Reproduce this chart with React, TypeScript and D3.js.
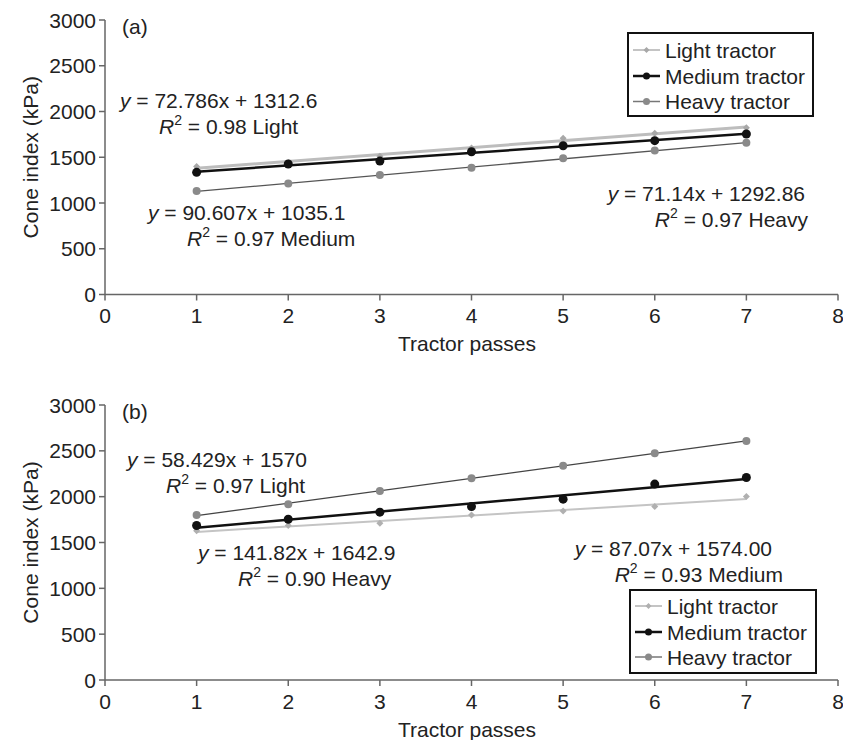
import React from "react";
import * as d3 from "d3";

const passes = [1, 2, 3, 4, 5, 6, 7];
const xTicks = [0, 1, 2, 3, 4, 5, 6, 7, 8];
const yTicks = [0, 500, 1000, 1500, 2000, 2500, 3000];
const seriesNames = ["Light tractor", "Medium tractor", "Heavy tractor"];

const lightA = [1400, 1440, 1510, 1600, 1707, 1761, 1823];
const mediumA = [1335, 1426, 1458, 1560, 1626, 1681, 1754];
const heavyA = [1130, 1214, 1305, 1385, 1488, 1575, 1659];

const lightB = [1627, 1685, 1711, 1801, 1845, 1892, 2001];
const mediumB = [1685, 1754, 1831, 1892, 1973, 2137, 2209];
const heavyB = [1801, 1918, 2063, 2202, 2336, 2475, 2606];

const eqA = [
  { eq: "72.786x + 1312.6", r2: "0.98 Light" },
  { eq: "90.607x + 1035.1", r2: "0.97 Medium" },
  { eq: "71.14x + 1292.86", r2: "0.97 Heavy" },
];
const eqB = [
  { eq: "58.429x + 1570", r2: "0.97 Light" },
  { eq: "141.82x + 1642.9", r2: "0.90 Heavy" },
  { eq: "87.07x + 1574.00", r2: "0.93 Medium" },
];

const FONT = "'Liberation Sans', Arial, Helvetica, sans-serif";
const FS = 21;
const TEXT = "#222";
const AXIS = "#666";

type Style = { line: string; legLine: string; lw: number; marker: string; kind: "diamond" | "circle"; r: number; legLw: number };

const stylesA: Style[] = [
  { line: "#bdbdbd", legLine: "#b0b0b0", lw: 3, marker: "#a8a8a8", kind: "diamond", r: 3.5, legLw: 1.5 },
  { line: "#111", legLine: "#111", lw: 2.5, marker: "#111", kind: "circle", r: 4.5, legLw: 2.5 },
  { line: "#555", legLine: "#777", lw: 1.3, marker: "#8a8a8a", kind: "circle", r: 4, legLw: 1.5 },
];
const stylesB: Style[] = [
  { line: "#c4c4c4", legLine: "#b0b0b0", lw: 2, marker: "#b0b0b0", kind: "diamond", r: 3.5, legLw: 1.5 },
  { line: "#111", legLine: "#111", lw: 2.5, marker: "#111", kind: "circle", r: 4.5, legLw: 2.5 },
  { line: "#444", legLine: "#777", lw: 1.3, marker: "#8a8a8a", kind: "circle", r: 4, legLw: 1.5 },
];

function fit(xs: number[], ys: number[]) {
  const mx = d3.mean(xs)!;
  const my = d3.mean(ys)!;
  let num = 0, den = 0;
  xs.forEach((x, i) => { num += (x - mx) * (ys[i] - my); den += (x - mx) ** 2; });
  const b = num / den;
  return { b, a: my - b * mx };
}

function Marker({ x, y, s }: { x: number; y: number; s: Style }) {
  if (s.kind === "diamond") {
    const r = s.r;
    return <path d={`M${x},${y - r}L${x + r},${y}L${x},${y + r}L${x - r},${y}Z`} fill={s.marker} />;
  }
  return <circle cx={x} cy={y} r={s.r} fill={s.marker} />;
}

function Eq({ x, y, anchor, eq, r2, dx2 }: { x: number; y: number; anchor: string; eq: string; r2: string; dx2: number }) {
  return (
    <g fontFamily={FONT} fontSize={FS} fill={TEXT} textAnchor={anchor}>
      <text x={x} y={y} dominantBaseline="central">
        <tspan fontStyle="italic">y</tspan> = {eq}
      </text>
      <text x={x + dx2} y={y + 26} dominantBaseline="central">
        <tspan fontStyle="italic">R</tspan>
        <tspan fontSize={14} dy={-6}>2</tspan>
        <tspan dy={6}> = {r2}</tspan>
      </text>
    </g>
  );
}

function Panel({
  top, bottom, label, data, styles, eqs, eqPos, legend,
}: {
  top: number; bottom: number; label: string; data: number[][]; styles: Style[];
  eqs: { eq: string; r2: string }[];
  eqPos: { x: number; y: number; anchor: string; dx2: number }[];
  legend: { x0: number; y0: number; x1: number; y1: number; rows: number[] };
}) {
  const x = d3.scaleLinear().domain([0, 8]).range([105, 838]);
  const y = d3.scaleLinear().domain([0, 3000]).range([bottom, top]);
  return (
    <g>
      <line x1={x(0)} x2={x(0)} y1={y(0)} y2={y(3000)} stroke={AXIS} strokeWidth={1.5} />
      <line x1={x(0)} x2={x(8)} y1={y(0)} y2={y(0)} stroke={AXIS} strokeWidth={1.5} />
      {yTicks.map((t) => (
        <g key={t}>
          <line x1={x(0) - 6} x2={x(0)} y1={y(t)} y2={y(t)} stroke={AXIS} strokeWidth={1.5} />
          <text x={x(0) - 9} y={y(t)} textAnchor="end" dominantBaseline="central" fontFamily={FONT} fontSize={FS} fill={TEXT}>{t}</text>
        </g>
      ))}
      {xTicks.map((t) => (
        <g key={t}>
          <line x1={x(t)} x2={x(t)} y1={y(0)} y2={y(0) + 6} stroke={AXIS} strokeWidth={1.5} />
          <text x={x(t)} y={y(0) + 21} textAnchor="middle" dominantBaseline="central" fontFamily={FONT} fontSize={FS} fill={TEXT}>{t}</text>
        </g>
      ))}
      <text x={467} y={y(0) + 49} textAnchor="middle" dominantBaseline="central" fontFamily={FONT} fontSize={FS} fill={TEXT}>Tractor passes</text>
      <text transform={`translate(30,${(top + bottom) / 2}) rotate(-90)`} textAnchor="middle" dominantBaseline="central" fontFamily={FONT} fontSize={FS} fill={TEXT}>Cone index (kPa)</text>
      <text x={122} y={top + 6} dominantBaseline="central" fontFamily={FONT} fontSize={FS} fill={TEXT}>{label}</text>

      {data.map((ys, i) => {
        const f = fit(passes, ys);
        const pts = [1, 7].map((p) => [x(p), y(f.a + f.b * p)] as [number, number]);
        return <path key={"t" + i} d={d3.line()(pts)!} stroke={styles[i].line} strokeWidth={styles[i].lw} fill="none" />;
      })}
      {data.map((ys, i) =>
        ys.map((v, j) => <Marker key={`m${i}-${j}`} x={x(passes[j])} y={y(v)} s={styles[i]} />)
      )}

      {eqs.map((e, i) => (
        <Eq key={"e" + i} x={eqPos[i].x} y={eqPos[i].y} anchor={eqPos[i].anchor} eq={e.eq} r2={e.r2} dx2={eqPos[i].dx2} />
      ))}

      <rect x={legend.x0} y={legend.y0} width={legend.x1 - legend.x0} height={legend.y1 - legend.y0} fill="white" stroke="#111" strokeWidth={2} />
      {seriesNames.map((n, i) => (
        <g key={"l" + i}>
          <line x1={legend.x0 + 5} x2={legend.x0 + 32} y1={legend.rows[i]} y2={legend.rows[i]} stroke={styles[i].legLine} strokeWidth={styles[i].legLw} />
          <Marker x={legend.x0 + 18.5} y={legend.rows[i]} s={{ ...styles[i], r: styles[i].kind === "diamond" ? 3 : 3.5 }} />
          <text x={legend.x0 + 37} y={legend.rows[i]} dominantBaseline="central" fontFamily={FONT} fontSize={FS} fill={TEXT}>{n}</text>
        </g>
      ))}
    </g>
  );
}

export default function App() {
  return (
    <svg width={843} height={740} style={{ position: "absolute", left: 0, top: 0, background: "white" }}>
      <rect width={843} height={740} fill="white" />
      <Panel
        top={20}
        bottom={294.5}
        label="(a)"
        data={[lightA, mediumA, heavyA]}
        styles={stylesA}
        eqs={eqA}
        eqPos={[
          { x: 120, y: 100, anchor: "start", dx2: 39 },
          { x: 148, y: 212, anchor: "start", dx2: 39 },
          { x: 805, y: 193, anchor: "end", dx2: 3 },
        ]}
        legend={{ x0: 628, y0: 33, x1: 813, y1: 116, rows: [50, 76, 101.5] }}
      />
      <Panel
        top={405}
        bottom={680}
        label="(b)"
        data={[lightB, mediumB, heavyB]}
        styles={stylesB}
        eqs={eqB}
        eqPos={[
          { x: 127, y: 459, anchor: "start", dx2: 39 },
          { x: 198, y: 552, anchor: "start", dx2: 40 },
          { x: 772, y: 548, anchor: "end", dx2: 11 },
        ]}
        legend={{ x0: 630, y0: 590, x1: 816, y1: 673, rows: [606, 632, 657] }}
      />
    </svg>
  );
}
